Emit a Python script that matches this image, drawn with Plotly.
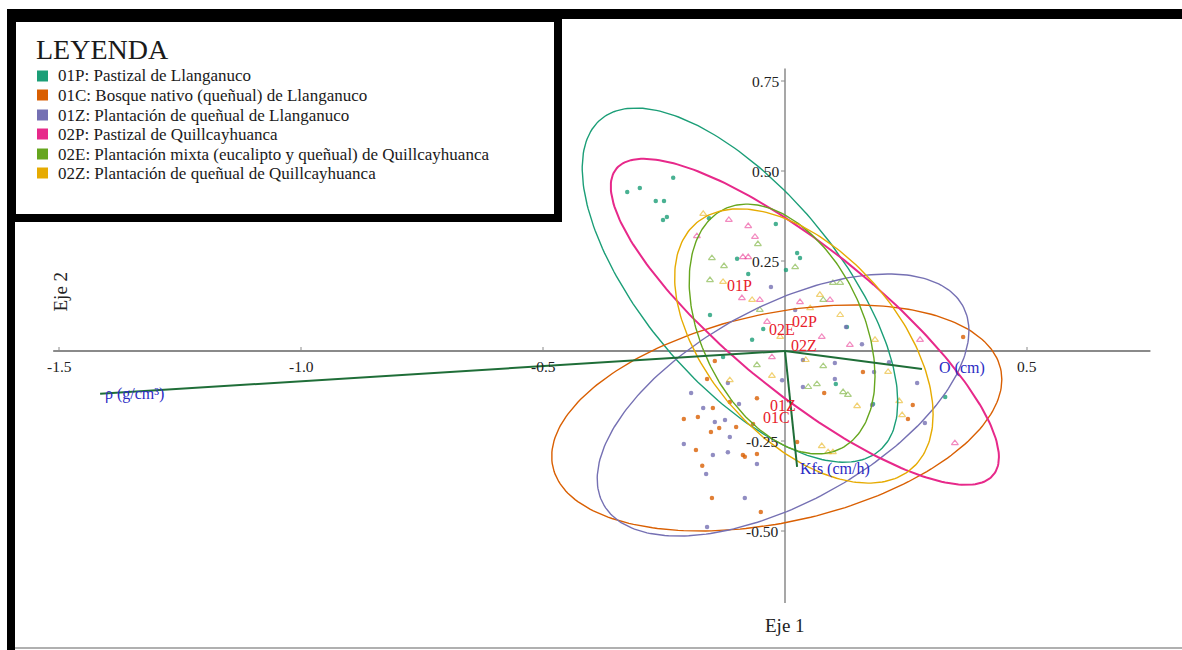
import numpy as np
import plotly.graph_objects as go

W, H = 1182, 650
FONT = "Liberation Serif"

# ---------------------------------------------------------------- data
group_codes = ["01P", "01C", "01Z", "02P", "02E", "02Z"]
group_names = [
    "01P: Pastizal de Llanganuco",
    "01C: Bosque nativo (queñual) de Llanganuco",
    "01Z: Plantación de queñual de Llanganuco",
    "02P: Pastizal de Quillcayhuanca",
    "02E: Plantación mixta (eucalipto y queñual) de Quillcayhuanca",
    "02Z: Plantación de queñual de Quillcayhuanca",
]
group_colors = ["#1b9e77", "#d95f02", "#7570b3", "#e7298a", "#66a61e", "#e6ab02"]

# sample scores (Eje 1, Eje 2) per site
s01P_x = [-0.326, -0.300, -0.231, -0.267, -0.250, -0.252, -0.244, -0.157, -0.019, -0.099, -0.076,
          0.002, -0.155, 0.025, 0.031, -0.068, -0.045, 0.128, -0.128, 0.182, 0.331, 0.105]
s01P_y = [0.442, 0.453, 0.481, 0.417, 0.417, 0.364, 0.372, 0.369, 0.353, 0.256, 0.214,
          0.225, 0.100, 0.272, 0.258, 0.031, 0.061, 0.067, -0.017, -0.147, -0.128, -0.092]

s01C_x = [-0.145, -0.161, -0.114, -0.058, -0.149, -0.209, -0.180, -0.136, -0.101, -0.153, -0.066, -0.184,
          -0.087, -0.083, -0.058, -0.171, -0.151, -0.050, 0.025, 0.161, 0.264, 0.254, 0.368, 0.081]
s01C_y = [-0.028, -0.078, -0.142, -0.131, -0.158, -0.189, -0.183, -0.214, -0.211, -0.225, -0.203, -0.275,
          -0.289, -0.294, -0.286, -0.319, -0.408, -0.447, -0.253, -0.058, -0.150, -0.189, 0.039, -0.117]

s01Z_x = [-0.118, -0.194, -0.095, -0.006, -0.169, -0.145, -0.124, -0.114, -0.209, -0.149, -0.118, -0.058, -0.163,
          -0.083, -0.161, 0.126, 0.159, 0.037, 0.103, 0.215, 0.184, 0.273, 0.037, 0.103, 0.180, 0.289, 0.021, -0.029]
s01Z_y = [-0.089, -0.117, -0.147, -0.081, -0.158, -0.197, -0.192, -0.239, -0.258, -0.289, -0.281, -0.314, -0.342,
          -0.408, -0.489, 0.067, 0.019, -0.025, -0.033, -0.031, -0.058, -0.089, -0.100, -0.078, -0.150, -0.200, 0.114, 0.178]

s02P_x = [-0.182, -0.116, -0.076, -0.062, -0.087, -0.076, -0.089, -0.037, -0.027, 0.076, 0.031, 0.134,
          0.351, 0.279, 0.093, -0.052]
s02P_y = [0.319, 0.364, 0.347, 0.317, 0.261, 0.261, 0.147, 0.081, -0.017, 0.039, 0.136, 0.017,
          -0.256, 0.031, 0.142, 0.142]

s02E_x = [-0.056, -0.151, -0.126, 0.021, 0.079, 0.099, 0.114, 0.066, 0.048, 0.079, -0.058, 0.120,
          0.130, -0.052, -0.155]
s02E_y = [0.297, 0.258, 0.236, 0.233, 0.142, 0.189, 0.189, -0.092, -0.100, -0.042, -0.039, -0.114,
          -0.122, 0.114, 0.197]

s02Z_x = [-0.169, -0.068, -0.128, -0.010, -0.027, -0.114, 0.149, 0.236, 0.213, 0.242, 0.186, 0.076,
          0.089, 0.099, 0.052, 0.114, 0.072, 0.043]
s02Z_y = [0.381, 0.142, 0.192, 0.039, -0.069, -0.081, -0.153, -0.139, -0.058, -0.178, 0.031, -0.264,
          -0.281, -0.281, 0.119, 0.100, 0.156, -0.025]

scores_x = [s01P_x, s01C_x, s01Z_x, s02P_x, s02E_x, s02Z_x]
scores_y = [s01P_y, s01C_y, s01Z_y, s02P_y, s02E_y, s02Z_y]

# group centroids (ellipse centres and label anchors)
cent_x = [-0.093, -0.017, -0.004, 0.041, -0.006, 0.039]
cent_y = [0.183, -0.186, -0.150, 0.081, 0.061, 0.014]
# ellipse half-extent along Eje 1 / Eje 2 and the cosine of the phase (tilt)
ell_rx = [0.326, 0.465, 0.384, 0.401, 0.192, 0.267]
ell_ry = [0.492, 0.314, 0.364, 0.453, 0.347, 0.381]
ell_cos = [-0.66, 0.34, 0.565, -0.83, -0.38, -0.50]

# fitted soil variables (vector tips)
env_names = ["O (cm)", "Kfs (cm/h)", "ρ (g/cm³)"]
env_x = [0.283, 0.025, -1.415]
env_y = [-0.050, -0.322, -0.119]

x_tick_vals = [-1.5, -1.0, -0.5, 0.5]
x_tick_text = ["-1.5", "-1.0", "-0.5", "0.5"]
y_tick_vals = [0.75, 0.50, 0.25, -0.25, -0.50]
y_tick_text = ["0.75", "0.50", "0.25", "-0.25", "-0.50"]

# ---------------------------------------------------------------- layout helpers
X0, Y0 = 785, 351          # pixel position of the origin
SX, SY = 484, 360          # pixels per unit on each axis
x_range = [-X0 / SX, (W - X0) / SX]
y_range = [(Y0 - H) / SY, Y0 / SY]

def px(x):
    return x / W

def py(y):
    return 1 - y / H

group_marker = ["circle", "circle", "circle", "triangle-up-open", "triangle-up-open", "triangle-up-open"]

fig = go.Figure()

# axes through the origin
axis_col = "#8a8a8a"
fig.add_trace(go.Scatter(x=[x_tick_vals[0] - 0.012, 0.755], y=[0, 0], mode="lines",
                         line=dict(color=axis_col, width=2), hoverinfo="skip", showlegend=False))
fig.add_trace(go.Scatter(x=[0, 0], y=[0.785, -0.70], mode="lines",
                         line=dict(color=axis_col, width=1.5), hoverinfo="skip", showlegend=False))
tx, ty = [], []
for v in x_tick_vals:
    tx += [v, v, None]
    ty += [0, 4 / SY, None]
for v in y_tick_vals:
    tx += [0, -4 / SX, None]
    ty += [v, v, None]
fig.add_trace(go.Scatter(x=tx, y=ty, mode="lines", line=dict(color=axis_col, width=1),
                         hoverinfo="skip", showlegend=False))

# sample points
for i in range(len(group_codes)):
    is_tri = group_marker[i] != "circle"
    fig.add_trace(go.Scatter(
        x=scores_x[i], y=scores_y[i], mode="markers", name=group_names[i], showlegend=False,
        marker=dict(symbol=group_marker[i], size=6 if is_tri else 4.5,
                    color=group_colors[i], opacity=0.55 if is_tri else 0.8,
                    line=dict(width=1.2 if is_tri else 0, color=group_colors[i]))))

# confidence ellipses
t = np.linspace(0, 2 * np.pi, 240)
for i in range(len(group_codes)):
    phi = np.arccos(ell_cos[i])
    ex = cent_x[i] + ell_rx[i] * np.cos(t)
    ey = cent_y[i] + ell_ry[i] * np.cos(t + phi)
    fig.add_trace(go.Scatter(x=ex, y=ey, mode="lines", hoverinfo="skip", showlegend=False,
                             line=dict(color=group_colors[i], width=2 if group_codes[i] == "02P" else 1.4)))

# fitted vectors
vec_col = "#1f6e38"
for i in range(len(env_names)):
    fig.add_trace(go.Scatter(x=[0, env_x[i]], y=[0, env_y[i]], mode="lines", hoverinfo="skip",
                             showlegend=False, line=dict(color=vec_col, width=2)))

annotations = []
env_shift = [(40, 1), (38, -2), (34, 0)]
for i, name in enumerate(env_names):
    annotations.append(dict(x=env_x[i], y=env_y[i], xref="x", yref="y", text=name, showarrow=False,
                            xshift=env_shift[i][0], yshift=env_shift[i][1],
                            font=dict(family=FONT, size=16, color="#2b2bc4")))

for i, code in enumerate(group_codes):
    annotations.append(dict(x=cent_x[i], y=cent_y[i], xref="x", yref="y", text=code, showarrow=False,
                            font=dict(family=FONT, size=16, color="#e8202a")))

for v, s in zip(x_tick_vals, x_tick_text):
    annotations.append(dict(x=v, y=0, xref="x", yref="y", text=s, showarrow=False, yshift=-15,
                            font=dict(family=FONT, size=15.5, color="#222")))
for v, s in zip(y_tick_vals, y_tick_text):
    annotations.append(dict(x=0, y=v, xref="x", yref="y", text=s, showarrow=False, xanchor="right",
                            xshift=-4, font=dict(family=FONT, size=15.5, color="#222")))

annotations.append(dict(x=0, y=-0.70, xref="x", yref="y", text="Eje 1", showarrow=False, yshift=-22,
                        font=dict(family=FONT, size=19, color="#222")))
annotations.append(dict(x=px(47), y=py(292), xref="paper", yref="paper", text="Eje 2", showarrow=False,
                        textangle=-90, font=dict(family=FONT, size=19, color="#222")))

# legend panel
shapes = [
    dict(type="rect", xref="paper", yref="paper", x0=px(7), x1=px(W), y0=py(19), y1=py(9),
         fillcolor="black", line=dict(width=0), layer="above"),
    dict(type="rect", xref="paper", yref="paper", x0=px(7), x1=px(15), y0=py(H), y1=py(9),
         fillcolor="black", line=dict(width=0), layer="above"),
    dict(type="line", xref="paper", yref="paper", x0=px(15), x1=px(W), y0=py(648), y1=py(648),
         line=dict(color="#b0b0b0", width=2), layer="above"),
    dict(type="rect", xref="paper", yref="paper", x0=px(7), x1=px(562), y0=py(222), y1=py(9),
         fillcolor="black", line=dict(width=0), layer="above"),
    dict(type="rect", xref="paper", yref="paper", x0=px(16), x1=px(554), y0=py(214), y1=py(22),
         fillcolor="white", line=dict(width=0), layer="above"),
]
annotations.append(dict(x=px(34), y=py(49), xref="paper", yref="paper", text="LEYENDA", showarrow=False,
                        xanchor="left", yanchor="middle", font=dict(family=FONT, size=28, color="#1a1a1a")))
row_y = [76, 95, 115, 134, 154, 173]
for i in range(len(group_names)):
    shapes.append(dict(type="rect", xref="paper", yref="paper", x0=px(37), x1=px(48),
                       y0=py(row_y[i] + 5.5), y1=py(row_y[i] - 5.5),
                       fillcolor=group_colors[i], line=dict(width=0), layer="above"))
    annotations.append(dict(x=px(56), y=py(row_y[i]), xref="paper", yref="paper", text=group_names[i],
                            showarrow=False, xanchor="left", yanchor="middle",
                            font=dict(family=FONT, size=17, color="#1a1a1a")))

fig.update_layout(
    width=W, height=H, autosize=False,
    margin=dict(l=0, r=0, t=0, b=0, pad=0),
    paper_bgcolor="white", plot_bgcolor="white",
    xaxis=dict(range=x_range, visible=False, fixedrange=True),
    yaxis=dict(range=y_range, visible=False, fixedrange=True),
    shapes=shapes, annotations=annotations, showlegend=False,
)

fig.write_html("out.html")
